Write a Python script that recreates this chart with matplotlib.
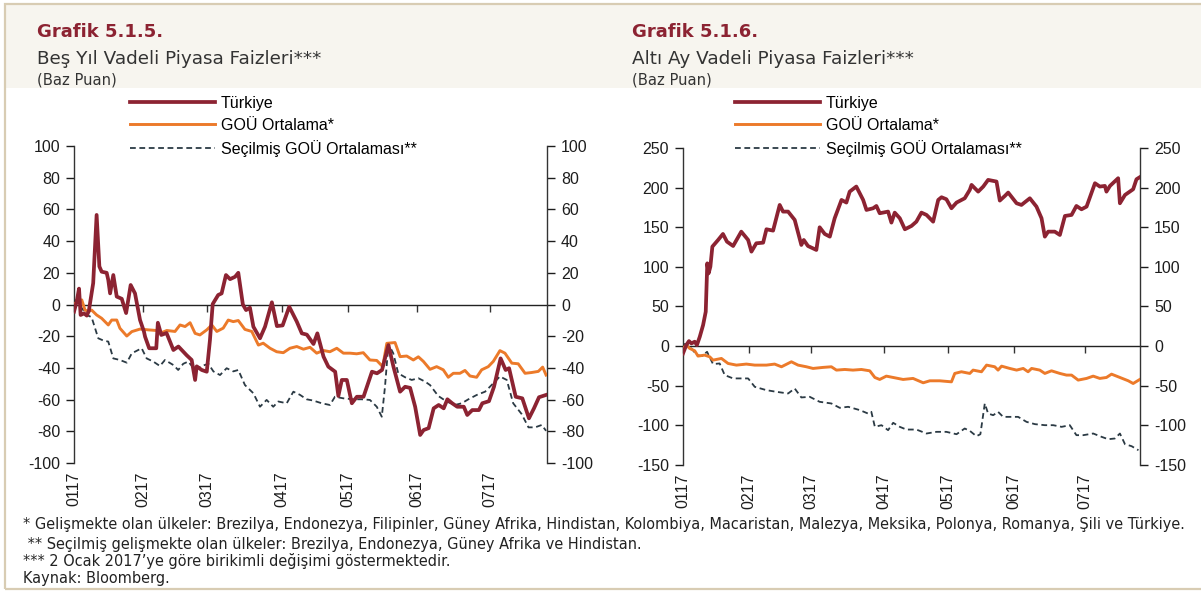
import matplotlib
matplotlib.use("Agg")
import matplotlib.pyplot as plt
import matplotlib.dates as mdates
from matplotlib.patches import Rectangle
import numpy as np
import pandas as pd

plt.rcParams["axes.unicode_minus"] = False

# days since 2 Jan 2017, values in basis points (cumulative change)
start = pd.Timestamp("2017-01-02")
end_day = 207
month_ticks = ["2017-01-02", "2017-02-01", "2017-03-01", "2017-04-03",
               "2017-05-02", "2017-06-01", "2017-07-03"]

# --- Grafik 5.1.5 : 5 year rates ---
tr5_day = [0, 1.2, 2.2, 2.9, 4.4, 5.6, 6.5, 8.4, 9.9, 11.1, 12.1, 14.3, 15, 15.8, 17.2, 18.7,
           20.9, 22.8, 24.8, 26.7, 28.9, 30.6, 31.1, 32.9, 36, 36.7, 38.2, 40.5, 43.5, 45.7,
           49.3, 51.5, 53, 53.7, 55.9, 58.1, 59.5, 60.7, 63.1, 64.6, 66.5, 68.3, 70.5, 71.9,
           73.9, 75.3, 77, 78.5, 81.4, 83.6, 86.6, 88.8, 91.3, 94.2, 97.5, 99.7, 101.9, 104.8,
           106.5, 109.2, 111.3, 114.3, 115.7, 117.2, 119.4, 121.6, 123.8, 126.7, 130.4, 132.6,
           134.8, 137.6, 139.8, 142.7, 144.9, 147.1, 149.3, 151.5, 153, 155.2, 157.4, 159.6,
           161.8, 163.4, 165.5, 167.7, 170.6, 172.1, 174.3, 177.2, 178.7, 181.6, 183.8, 186.7,
           188.9, 190.4, 193.3, 196.2, 199.1, 201.3, 203.5, 206.5]
tr5_val = [-4.5, 2, 10, -6.6, -5.6, -7, -4, 13.5, 56.5, 24, 20.7, 20, 15.5, 7, 18.6, 5,
           3.6, -5.4, 12.3, 7, -9.8, -17, -20.3, -27.6, -27.6, -11.5, -19.2, -18, -28.7, -26.5,
           -32, -35, -47.6, -39, -41.3, -42.4, -22.4, 0.3, 6, 7, 18.6, 16, 17.5, 20,
           0, -3.5, -2, -14, -21.3, -14, 1.4, -13.6, -13.2, -1.4, -10.8, -18.2, -19, -24.9,
           -18.2, -32.9, -39.2, -42.4, -57.7, -47.6, -47.6, -62.3, -58.2, -58.2, -42.4, -43.4,
           -41.3, -25.6, -39.2, -55, -51.9, -52.6, -64.5, -82.3, -79.2, -78, -65.5, -63.4,
           -65.5, -59.8, -62.3, -64.5, -64.5, -69.7, -66.6, -66.6, -62.3, -61, -51.9, -34,
           -41.3, -40.2, -58.2, -59.2, -71.8, -65.5, -58.5, -57.1]

gou5_day = [0, 1.9, 3.4, 4.8, 6.3, 7.7, 9.9, 12.1, 15, 16.5, 18.7, 20.1, 23.1, 25.3, 28.9,
            32.5, 36.2, 37.6, 40.6, 44.2, 46.4, 48.6, 50.8, 53, 55.1, 58.1, 60.3, 62.5, 65.3,
            67.5, 69.7, 71.9, 74.8, 77.8, 80.7, 82.8, 85.8, 88.7, 91.6, 94.5, 97.5, 100.4,
            103.3, 106.2, 109.1, 112, 115, 117.9, 120.8, 123.7, 126.6, 129.5, 132.5, 135.1,
            136.9, 140.5, 142.7, 145.6, 148.5, 150.7, 152.9, 155.8, 158.7, 161.6, 163.8, 166,
            168.9, 171.1, 173.3, 176.2, 178.4, 181.3, 183.5, 186.4, 188.6, 191.6, 194.4, 197.4,
            200.3, 203.2, 205.1, 206.6]
gou5_val = [0.4, 1.8, 2.9, -3.5, -4.4, -3.5, -6.6, -8.7, -12.9, -9.8, -9.8, -15, -19.9, -17.1,
            -15.5, -16, -16.4, -18.2, -16.4, -17, -12.9, -13.9, -11.5, -18.2, -19.2, -16, -12.9,
            -17, -14.9, -9.8, -10.8, -10.1, -15.7, -17, -25.6, -24.4, -27.6, -29.8, -30.4, -27.6,
            -26.5, -28.2, -27, -30.7, -29, -29.8, -27.6, -30.7, -30.7, -31.1, -30.4, -35, -35.3,
            -39.2, -24.5, -24, -32.9, -32.5, -35, -33, -35.9, -40.9, -39.2, -41.2, -45.9, -43.4,
            -43.4, -41.6, -45.1, -45.9, -41.2, -39.2, -35.9, -29.1, -30.7, -37, -37.4, -43.4,
            -42.9, -42.2, -39.5, -44.5]

sec5_day = [0, 1.9, 5.6, 7.7, 10.6, 12.8, 15, 17.2, 20.1, 23.1, 25.3, 29.6, 31.8, 34.7, 37.6,
            39.8, 43.5, 45.6, 47.8, 50, 53, 55.9, 58.8, 61, 63.9, 66.8, 69.7, 71.9, 74.8, 78.5,
            81.4, 84.3, 87.2, 89.4, 93.1, 96, 98.9, 101.8, 104.7, 108.4, 112, 114.2, 117.9,
            122.2, 125.9, 129.5, 132.5, 134.7, 136.1, 137.6, 139.7, 141.9, 144.9, 147.8, 150.7,
            153.6, 155.8, 159.4, 163.1, 166.7, 169.7, 172.6, 176.2, 179.9, 183.5, 186.4, 189.4,
            192.2, 195.9, 198.9, 201.8, 204.7, 206.6]
sec5_val = [3.3, 0.8, -6.6, -8, -21.3, -22.7, -23.4, -34, -35, -36.7, -30.8, -27.6, -34, -36,
            -38.8, -35, -38.2, -41.3, -37.4, -36, -41.3, -38.8, -37.4, -42.2, -44.5, -40.2, -42.2,
            -41.3, -50.8, -56, -64.5, -60.2, -64.5, -61.2, -62.3, -55, -57, -59.8, -60.6, -62.3,
            -63.4, -58.2, -59.2, -59.8, -59.8, -60.2, -64.5, -70.8, -51.9, -24.9, -30.7, -43.4,
            -45.9, -47.6, -46.5, -48.6, -50.8, -57.7, -61.2, -63.4, -62.3, -59.8, -57.1, -55,
            -49.7, -45.4, -47.6, -62.3, -69.1, -77.5, -77.5, -76, -79.7]

# --- Grafik 5.1.6 : 6 month rates ---
tr6_day = [0, 1.5, 2.7, 3.8, 5.3, 6.3, 7.6, 9.1, 10.3, 11, 11.6, 12.4, 13.3, 15.9, 18.1, 19.9,
           22.7, 26.4, 29.5, 31, 33.2, 36.3, 37.8, 40.8, 43.8, 45.3, 47.6, 50.6, 53.6, 54.7,
           56.6, 60.4, 61.9, 64.2, 66.5, 68.7, 71.8, 74, 75.5, 78.5, 81.6, 83.1, 86.1, 87.6,
           89.1, 92.9, 94.4, 95.9, 98.2, 100.5, 103.5, 105.7, 108, 110.3, 113.3, 115.6, 117.1,
           119.3, 121.6, 123.9, 127.6, 129.9, 130.7, 133.7, 136, 138.2, 142, 143.5, 145.8, 147.3,
           151.1, 153.3, 157.1, 160.1, 162.4, 163.9, 165.4, 168.4, 170.7, 173, 176, 178.2, 180.5,
           182.8, 186.6, 188.8, 191.1, 191.8, 193.4, 197.1, 197.9, 200.2, 203.9, 205.4, 206.9]
tr6_val = [-9.3, 1.3, 6.3, 3.4, 5.5, 1.3, 11.8, 26.5, 43.4, 104.4, 91.8, 100.2, 125.5, 133.9,
           141.5, 131.8, 126.3, 144.4, 133.9, 119.2, 129.7, 130.5, 147.4, 145.7, 178.1, 169.7,
           169.7, 159.2, 127.6, 133.9, 126.3, 121.3, 149.9, 141.5, 138.1, 161.3, 184.4, 181.1,
           194.9, 201.3, 184.4, 171.8, 173.9, 176.8, 167.6, 169.7, 155.8, 168.4, 161.3, 147.4,
           151.6, 157, 168.4, 165.5, 157, 184.4, 187.8, 185.3, 173.9, 181.1, 186.5, 197.1, 203.4,
           194.9, 201.3, 209.7, 207.6, 183.6, 189.5, 193.7, 180.2, 178.1, 186.5, 176, 161.3,
           138.1, 144.4, 144.4, 140.2, 164.2, 165.5, 176.8, 172.6, 176, 205.5, 201.3, 202.1,
           194.9, 202.1, 211.8, 180.2, 190.7, 197.9, 210.5, 213.1]

gou6_day = [0, 1.5, 3, 5.3, 6.8, 9.8, 12.1, 13.6, 17.4, 20.4, 24.2, 28.7, 32.5, 37.8, 41.5,
            44.6, 49.1, 52.1, 55.9, 58.9, 63.4, 67.2, 69.5, 73.3, 77, 80.8, 84.6, 86.9, 89.1,
            92.1, 95.2, 99.7, 104.2, 108.8, 111.8, 116.3, 121.6, 123.1, 126.1, 129.9, 131.4,
            135.2, 137.5, 141.2, 142.7, 144.3, 148, 151.1, 154.1, 156.3, 157.9, 161.6, 163.9,
            166.9, 170.7, 173.7, 176, 179, 182.8, 185.8, 188.8, 191.8, 194.1, 197.9, 201.7,
            203.9, 206.9]
gou6_val = [-2.9, 1.3, -2.9, -5.9, -12.6, -11.4, -13.5, -17.7, -15.6, -21.9, -24, -22.7, -24,
            -24, -22.7, -26.1, -19.8, -24, -26.1, -28.2, -26.9, -26.1, -30.3, -29.5, -30.3,
            -29.5, -31.2, -39.6, -42.1, -37.9, -39.6, -42.1, -40.8, -46.3, -43.8, -43.8, -45.1,
            -34.5, -32.4, -34.5, -30.3, -32.4, -24, -26.1, -30.3, -25.3, -28.2, -30.3, -28.2,
            -32.4, -28.2, -30.3, -34.5, -31.2, -34.5, -36.6, -36.6, -42.9, -40.8, -37.9, -40.8,
            -39.6, -35.4, -39.6, -43.8, -47.2, -42.1]

sec6_day = [0, 1.5, 3.8, 6.3, 8.6, 10.9, 13.6, 16.6, 18.9, 22.7, 26.4, 29.5, 32.5, 37.8, 42.3,
            47.6, 50.6, 53.6, 57.4, 61.9, 67.2, 71, 74.8, 80.1, 83.8, 85.3, 86.9, 89.9, 92.9,
            95.2, 98.2, 101.2, 105.7, 110.3, 114.8, 119.3, 123.9, 127.6, 129.9, 132.9, 134.7,
            136.7, 138.2, 140.5, 142.7, 145, 148, 151.8, 155.6, 159.4, 163.9, 167.7, 171.5,
            175.2, 178.2, 181.3, 185.8, 189.6, 192.6, 195.6, 197.9, 200.2, 203.2, 206.3]
sec6_val = [2.5, 2.5, -2.9, -11.4, -12.6, -7.2, -22.7, -21.9, -36.6, -40.8, -40.8, -40.8,
            -51.4, -55.6, -57.7, -59.8, -53.5, -64.8, -64, -70.3, -72.4, -77.9, -76.6, -80.8,
            -85.1, -82.9, -101.9, -99.8, -106.1, -96.8, -101.9, -105.3, -105.3, -110.3, -108.2,
            -108.2, -111.2, -104, -106.9, -113.7, -111.2, -72.4, -85.1, -87.2, -82.9, -89.3,
            -89.3, -89.3, -95.6, -98.5, -99.8, -99.8, -101.9, -99.8, -112.4, -112.4, -110.3,
            -114.5, -117.5, -116.6, -110.3, -123.8, -126.3, -131.4]

labels = ["Türkiye", "GOÜ Ortalama*", "Seçilmiş GOÜ Ortalaması**"]
c_tr = "#8c2332"
c_gou = "#ec7a2a"
c_sec = "#2b3a44"


def to_dates(days):
    return start + pd.to_timedelta(np.array(days, dtype=float), unit="D")


axis_font = "Liberation Sans"
title_font = "DejaVu Sans"

fig = plt.figure(figsize=(12.01, 5.93), dpi=100)
fig.patch.set_facecolor("white")

# header band and frame
fig.patches.append(Rectangle((5 / 1201, 0.8516), 1, 0.142, transform=fig.transFigure,
                             facecolor="#f7f5ef", edgecolor="none", zorder=0))
fig.patches.append(Rectangle((5 / 1201, 0.006), 1, 0.987, transform=fig.transFigure,
                             facecolor="none", edgecolor="#d8ccb3", lw=1.6, zorder=1))


def draw_panel(rect, days, vals, ylim, ystep):
    ax = fig.add_axes(rect)
    ax.set_facecolor("none")
    d_tr, d_gou, d_sec = days
    v_tr, v_gou, v_sec = vals
    ax.plot(to_dates(d_gou), v_gou, color=c_gou, lw=2.1, label=labels[1], zorder=3)
    ax.plot(to_dates(d_sec), v_sec, color=c_sec, lw=1.3, ls=(0, (3.2, 2)), label=labels[2], zorder=2)
    ax.plot(to_dates(d_tr), v_tr, color=c_tr, lw=2.7, label=labels[0], zorder=4)
    ax.set_xlim(start, start + pd.Timedelta(days=end_day))
    ax.set_ylim(*ylim)
    ax.set_yticks(np.arange(ylim[0], ylim[1] + 1, ystep))
    ticks = pd.to_datetime(month_ticks)
    ax.set_xticks(ticks)
    ax.xaxis.set_major_formatter(mdates.DateFormatter("%m%y"))
    ax.tick_params(axis="x", length=0, pad=6, rotation=90, labelsize=11.5, colors="#1d1d1d")
    ax.tick_params(axis="y", direction="out", length=6, width=1, left=True, right=True,
                   labelleft=True, labelright=True, labelsize=11.5, colors="#1d1d1d", pad=4)
    for s in ["top", "bottom"]:
        ax.spines[s].set_visible(False)
    for s in ["left", "right"]:
        ax.spines[s].set_color("#333333")
        ax.spines[s].set_linewidth(1)
    for lab in ax.get_xticklabels():
        lab.set_fontfamily(axis_font)
    for t in ax.yaxis.get_major_ticks():
        t.label1.set_fontfamily(axis_font)
        t.label2.set_fontfamily(axis_font)
    # zero line with month ticks
    sec = ax.secondary_xaxis(0, transform=ax.transData)
    sec.set_xticks(mdates.date2num(ticks))
    sec.tick_params(axis="x", direction="out", length=5, width=1, labelbottom=False, color="#333333")
    sec.spines["bottom"].set_color("#222222")
    sec.spines["bottom"].set_linewidth(1)
    return ax


ax1 = draw_panel([74 / 1201, 0.2192, 473 / 1201, 0.5346],
                 (tr5_day, gou5_day, sec5_day), (tr5_val, gou5_val, sec5_val),
                 (-100, 100), 20)
ax2 = draw_panel([683 / 1201, 0.2159, 457 / 1201, 0.5346],
                 (tr6_day, gou6_day, sec6_day), (tr6_val, gou6_val, sec6_val),
                 (-150, 250), 50)


def add_legend(ax, x0):
    h, l = ax.get_legend_handles_labels()
    order = [2, 0, 1]
    fig.legend([h[i] for i in order], [l[i] for i in order], loc="upper left",
               bbox_to_anchor=(x0, 0.838), frameon=False, handlelength=5.3,
               handletextpad=0.4, labelspacing=0.43, borderpad=0, borderaxespad=0,
               prop={"family": axis_font, "size": 11.5})


add_legend(ax1, 130 / 1201)
add_legend(ax2, 735 / 1201)

# titles
for x0, num, sub in [(37 / 1201, "Grafik 5.1.5.", "Beş Yıl Vadeli Piyasa Faizleri***"),
                     (632 / 1201, "Grafik 5.1.6.", "Altı Ay Vadeli Piyasa Faizleri***")]:
    fig.text(x0, 0.946, num, color="#8c2332", fontsize=13, fontweight="bold",
             family=title_font, va="center", ha="left")
    fig.text(x0, 0.900, sub, color="#333333", fontsize=13.2, family=title_font,
             va="center", ha="left")
    fig.text(x0, 0.865, "(Baz Puan)", color="#333333", fontsize=10.6, family=title_font,
             va="center", ha="left")

notes = ["* Gelişmekte olan ülkeler: Brezilya, Endonezya, Filipinler, Güney Afrika, Hindistan, "
         "Kolombiya, Macaristan, Malezya, Meksika, Polonya, Romanya, Şili ve Türkiye.",
         " ** Seçilmiş gelişmekte olan ülkeler: Brezilya, Endonezya, Güney Afrika ve Hindistan.",
         "*** 2 Ocak 2017’ye göre birikimli değişimi göstermektedir.",
         "Kaynak: Bloomberg."]
for y, t in zip([0.115, 0.081, 0.054, 0.025], notes):
    fig.text(23 / 1201, y, t, fontsize=10.45, family=title_font, color="#222222",
             va="center", ha="left")

fig.savefig("out.png", dpi=100, facecolor=fig.get_facecolor())
